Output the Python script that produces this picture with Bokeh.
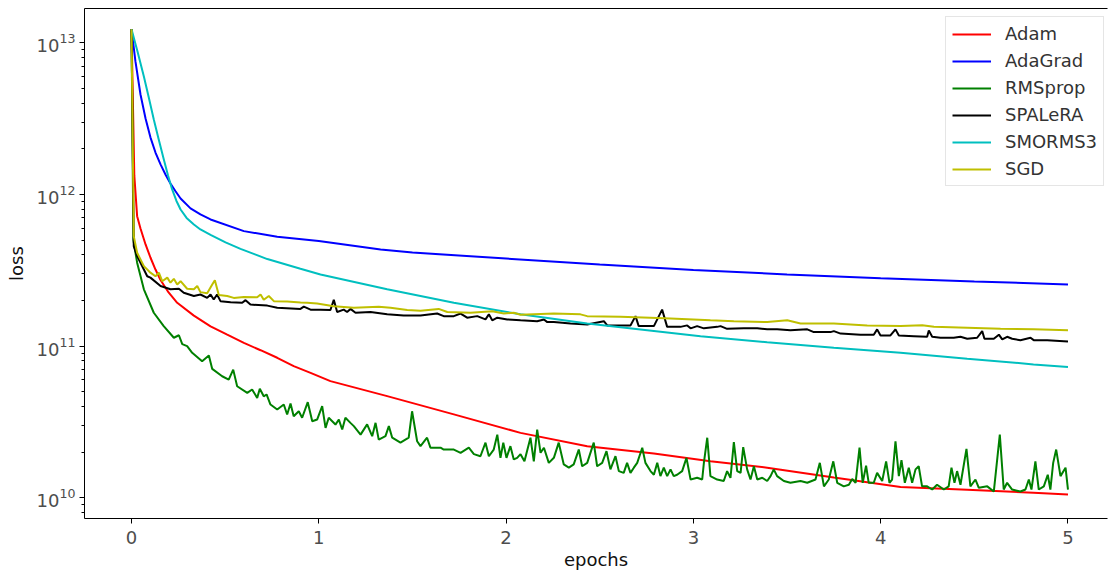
from bokeh.plotting import figure
from bokeh.models import (Range1d, FixedTicker, LinearAxis, Legend, LegendItem,
                          LogTickFormatter, ColumnDataSource)
from bokeh.embed import file_html
from bokeh.resources import INLINE

# ---------------- data ----------------
labels = ["Adam", "AdaGrad", "RMSprop", "SPALeRA", "SMORMS3", "SGD"]
colors = ["#ff0000", "#0000ff", "#008000", "#000000", "#00bfbf", "#bfbf00"]

adam_x = [0, 0.015, 0.030, 0.048, 0.075, 0.101, 0.128, 0.155, 0.198, 0.244, 0.333, 0.422,
          0.511, 0.600, 0.689, 0.778, 0.866, 0.956, 1.062, 1.365, 1.721, 2.077, 2.433, 2.789,
          3.091, 3.394, 3.750, 4.106, 4.462, 4.816, 5.0]
adam_y = [1.23e13, 1.33e12, 7.19e11, 5.97e11, 4.68e11, 3.84e11, 3.20e11, 2.73e11, 2.26e11,
          1.93e11, 1.59e11, 1.35e11, 1.19e11, 1.05e11, 9.4e10, 8.38e10, 7.38e10, 6.67e10,
          5.88e10, 4.68e10, 3.55e10, 2.68e10, 2.19e10, 1.96e10, 1.74e10, 1.58e10, 1.36e10,
          1.18e10, 1.13e10, 1.08e10, 1.05e10]

adagrad_x = [0, 0.021, 0.048, 0.075, 0.101, 0.128, 0.155, 0.182, 0.208, 0.235, 0.262, 0.315,
             0.368, 0.422, 0.600, 0.778, 1.0, 1.33, 1.5, 2.0, 2.5, 3.0, 3.5, 4.0, 4.5, 5.0]
adagrad_y = [1.23e13, 7.53e12, 4.56e12, 3.17e12, 2.38e12, 1.89e12, 1.58e12, 1.35e12, 1.18e12,
             1.05e12, 9.41e11, 8.09e11, 7.38e11, 6.84e11, 5.73e11, 5.26e11, 4.94e11, 4.33e11,
             4.14e11, 3.78e11, 3.45e11, 3.18e11, 2.97e11, 2.80e11, 2.67e11, 2.55e11]

rms_x = [0, 0.010, 0.030, 0.066, 0.119, 0.172, 0.226, 0.253, 0.271, 0.297, 0.324, 0.377,
         0.413, 0.431, 0.484, 0.519, 0.543, 0.564, 0.618, 0.644, 0.671, 0.685, 0.706, 0.721,
         0.742, 0.778, 0.813, 0.831, 0.849, 0.866, 0.893, 0.911, 0.941, 0.965, 0.991, 1.018,
         1.036, 1.053, 1.089, 1.107, 1.125, 1.142, 1.169, 1.187, 1.223, 1.258, 1.285, 1.303,
         1.320, 1.356, 1.374, 1.392, 1.436, 1.480, 1.498, 1.525, 1.543, 1.578, 1.596, 1.650,
         1.667, 1.721, 1.757, 1.801, 1.828, 1.863, 1.890, 1.908, 1.934, 1.953, 1.970, 1.985,
         2.002, 2.023, 2.041, 2.059, 2.077, 2.098, 2.130, 2.148, 2.166, 2.184, 2.202, 2.228,
         2.255, 2.281, 2.308, 2.335, 2.361, 2.388, 2.406, 2.433, 2.468, 2.486, 2.513, 2.536,
         2.557, 2.584, 2.602, 2.628, 2.646, 2.664, 2.682, 2.700, 2.727, 2.744, 2.771, 2.789,
         2.807, 2.824, 2.842, 2.860, 2.878, 2.895, 2.913, 2.940, 2.963, 2.985, 3.020, 3.047,
         3.056, 3.074, 3.091, 3.127, 3.162, 3.180, 3.198, 3.216, 3.234, 3.252, 3.266, 3.287,
         3.305, 3.323, 3.341, 3.368, 3.394, 3.412, 3.429, 3.447, 3.483, 3.518, 3.572, 3.608,
         3.652, 3.675, 3.697, 3.723, 3.747, 3.768, 3.803, 3.830, 3.848, 3.866, 3.887, 3.904,
         3.922, 3.936, 3.963, 3.981, 4.008, 4.029, 4.047, 4.061, 4.079, 4.097, 4.111, 4.129,
         4.150, 4.168, 4.186, 4.203, 4.221, 4.248, 4.275, 4.301, 4.337, 4.363, 4.378, 4.394,
         4.408, 4.426, 4.458, 4.479, 4.506, 4.524, 4.569, 4.604, 4.636, 4.657, 4.675, 4.702,
         4.746, 4.773, 4.791, 4.805, 4.826, 4.844, 4.871, 4.892, 4.906, 4.921, 4.937, 4.960,
         4.987, 5.0]
rms_y = [1.23e13, 5.0e11, 3.55e11, 2.37e11, 1.66e11, 1.355e11, 1.136e11, 1.18e11, 1.03e11,
         1.0e11, 9.03e10, 7.95e10, 8.67e10, 7.08e10, 6.33e10, 6.02e10, 7.0e10, 5.44e10,
         4.92e10, 5.18e10, 4.56e10, 5.24e10, 4.67e10, 4.8e10, 4.12e10, 3.82e10, 4.12e10,
         3.54e10, 4.19e10, 3.45e10, 3.72e10, 3.37e10, 4.27e10, 3.20e10, 3.28e10, 4.02e10,
         2.89e10, 3.37e10, 3.04e10, 3.28e10, 2.82e10, 3.37e10, 3.12e10, 2.97e10, 2.61e10,
         3.05e10, 2.55e10, 3.12e10, 2.42e10, 2.55e10, 2.97e10, 2.49e10, 2.31e10, 2.49e10,
         3.72e10, 2.36e10, 2.19e10, 2.49e10, 2.14e10, 2.14e10, 2.08e10, 2.08e10, 1.98e10,
         2.14e10, 1.94e10, 1.88e10, 2.31e10, 1.88e10, 2.08e10, 2.61e10, 1.835e10, 2.31e10,
         1.835e10, 2.19e10, 1.79e10, 1.835e10, 1.94e10, 1.74e10, 2.49e10, 1.74e10, 2.82e10,
         1.98e10, 2.14e10, 1.70e10, 1.835e10, 2.31e10, 1.66e10, 1.58e10, 1.66e10, 2.08e10,
         1.615e10, 1.70e10, 2.31e10, 1.615e10, 1.70e10, 2.03e10, 1.54e10, 1.88e10, 1.50e10,
         1.46e10, 1.70e10, 1.46e10, 1.58e10, 1.70e10, 2.14e10, 1.70e10, 1.50e10, 1.42e10,
         1.70e10, 1.39e10, 1.58e10, 1.39e10, 1.54e10, 1.39e10, 1.42e10, 1.50e10, 1.835e10,
         1.32e10, 1.355e10, 1.32e10, 1.70e10, 2.49e10, 1.39e10, 1.32e10, 1.29e10, 1.50e10,
         1.355e10, 2.33e10, 1.50e10, 1.46e10, 2.16e10, 1.54e10, 1.32e10, 1.615e10, 1.32e10,
         1.355e10, 1.29e10, 1.39e10, 1.54e10, 1.39e10, 1.29e10, 1.256e10, 1.29e10, 1.256e10,
         1.32e10, 1.70e10, 1.19e10, 1.32e10, 1.74e10, 1.256e10, 1.19e10, 1.22e10, 1.33e10,
         1.256e10, 2.14e10, 1.256e10, 1.63e10, 1.256e10, 1.256e10, 1.46e10, 1.29e10, 1.74e10,
         1.256e10, 1.32e10, 2.36e10, 1.39e10, 1.77e10, 1.256e10, 1.58e10, 1.256e10, 1.54e10,
         1.615e10, 1.19e10, 1.19e10, 1.134e10, 1.22e10, 1.134e10, 1.19e10, 1.58e10, 1.256e10,
         1.50e10, 1.22e10, 2.10e10, 1.19e10, 1.32e10, 1.164e10, 1.19e10, 1.10e10, 2.61e10,
         1.134e10, 1.256e10, 1.134e10, 1.10e10, 1.134e10, 1.32e10, 1.134e10, 1.74e10,
         1.134e10, 1.19e10, 1.42e10, 1.134e10, 1.70e10, 2.08e10, 1.39e10, 1.58e10, 1.134e10]

spa_x = [0, 0.012, 0.030, 0.066, 0.084, 0.101, 0.155, 0.208, 0.253, 0.279, 0.333, 0.368,
         0.404, 0.422, 0.439, 0.457, 0.475, 0.529, 0.591, 0.609, 0.635, 0.725, 0.778, 0.902,
         0.920, 0.956, 1.009, 1.062, 1.080, 1.098, 1.133, 1.151, 1.169, 1.196, 1.276, 1.365,
         1.453, 1.543, 1.632, 1.667, 1.721, 1.757, 1.792, 1.846, 1.890, 1.908, 1.926, 1.953,
         2.006, 2.077, 2.166, 2.202, 2.220, 2.255, 2.344, 2.433, 2.522, 2.540, 2.611, 2.664,
         2.691, 2.708, 2.789, 2.833, 2.860, 2.931, 2.967, 2.985, 3.020, 3.056, 3.127, 3.145,
         3.180, 3.269, 3.341, 3.394, 3.447, 3.518, 3.608, 3.643, 3.732, 3.750, 3.786, 3.892,
         3.963, 3.981, 3.999, 4.052, 4.079, 4.097, 4.177, 4.248, 4.257, 4.275, 4.319, 4.390,
         4.426, 4.462, 4.515, 4.542, 4.554, 4.604, 4.631, 4.649, 4.675, 4.702, 4.746, 4.800,
         4.817, 4.889, 5.0]
spa_y = [1.23e13, 4.56e11, 3.92e11, 3.20e11, 2.89e11, 2.83e11, 2.49e11, 2.37e11, 2.39e11,
         2.25e11, 2.14e11, 2.19e11, 2.08e11, 2.19e11, 2.03e11, 2.19e11, 1.98e11, 1.95e11,
         1.93e11, 2.01e11, 1.88e11, 1.85e11, 1.79e11, 1.76e11, 1.82e11, 1.74e11, 1.74e11,
         1.73e11, 2.02e11, 1.68e11, 1.74e11, 1.68e11, 1.76e11, 1.66e11, 1.68e11, 1.62e11,
         1.59e11, 1.59e11, 1.64e11, 1.577e11, 1.577e11, 1.64e11, 1.54e11, 1.577e11, 1.50e11,
         1.62e11, 1.48e11, 1.54e11, 1.50e11, 1.48e11, 1.46e11, 1.50e11, 1.44e11, 1.44e11,
         1.41e11, 1.39e11, 1.46e11, 1.37e11, 1.37e11, 1.37e11, 1.577e11, 1.355e11, 1.355e11,
         1.74e11, 1.34e11, 1.34e11, 1.37e11, 1.31e11, 1.355e11, 1.31e11, 1.34e11, 1.355e11,
         1.30e11, 1.31e11, 1.31e11, 1.29e11, 1.29e11, 1.275e11, 1.29e11, 1.237e11, 1.237e11,
         1.256e11, 1.21e11, 1.19e11, 1.19e11, 1.29e11, 1.176e11, 1.176e11, 1.29e11, 1.176e11,
         1.164e11, 1.153e11, 1.27e11, 1.153e11, 1.136e11, 1.136e11, 1.153e11, 1.119e11,
         1.136e11, 1.256e11, 1.119e11, 1.119e11, 1.19e11, 1.107e11, 1.153e11, 1.119e11,
         1.095e11, 1.136e11, 1.095e11, 1.095e11, 1.074e11]

smorms_x = [0, 0.032, 0.066, 0.091, 0.119, 0.144, 0.1725, 0.195, 0.217, 0.240, 0.262, 0.294,
            0.333, 0.368, 0.422, 0.502, 0.582, 0.725, 0.902, 1.009, 1.365, 1.721, 2.077,
            2.433, 2.789, 3.038, 3.394, 3.750, 4.106, 4.462, 4.816, 5.0]
smorms_y = [1.23e13, 8.76e12, 5.99e12, 4.43e12, 3.12e12, 2.34e12, 1.70e12, 1.334e12, 1.079e12,
            9.06e11, 7.96e11, 7.0e11, 6.34e11, 5.88e11, 5.41e11, 4.83e11, 4.38e11, 3.75e11,
            3.24e11, 2.97e11, 2.37e11, 1.93e11, 1.62e11, 1.41e11, 1.26e11, 1.16e11, 1.06e11,
            9.75e10, 9.05e10, 8.27e10, 7.58e10, 7.28e10]

sgd_x = [0, 0.012, 0.030, 0.066, 0.101, 0.128, 0.146, 0.164, 0.191, 0.208, 0.226, 0.244,
         0.262, 0.297, 0.333, 0.351, 0.368, 0.404, 0.431, 0.445, 0.466, 0.511, 0.546, 0.600,
         0.671, 0.689, 0.706, 0.733, 0.760, 0.831, 0.902, 0.938, 0.991, 1.080, 1.116, 1.187,
         1.320, 1.383, 1.472, 1.543, 1.640, 1.686, 1.810, 1.926, 1.988, 2.041, 2.077, 2.255,
         2.397, 2.433, 2.611, 2.771, 2.878, 3.091, 3.216, 3.394, 3.501, 3.572, 3.750, 3.928,
         4.106, 4.222, 4.284, 4.462, 4.640, 4.817, 5.0]
sgd_y = [1.23e13, 5.31e11, 4.13e11, 3.37e11, 3.05e11, 2.89e11, 3.05e11, 2.68e11, 2.83e11,
         2.62e11, 2.78e11, 2.55e11, 2.68e11, 2.39e11, 2.37e11, 2.49e11, 2.27e11, 2.23e11,
         2.55e11, 2.72e11, 2.17e11, 2.14e11, 2.08e11, 2.11e11, 2.10e11, 2.19e11, 2.02e11,
         2.14e11, 1.98e11, 1.97e11, 1.94e11, 1.93e11, 1.91e11, 1.835e11, 1.82e11, 1.79e11,
         1.82e11, 1.79e11, 1.73e11, 1.71e11, 1.76e11, 1.68e11, 1.66e11, 1.70e11, 1.64e11,
         1.66e11, 1.61e11, 1.64e11, 1.62e11, 1.577e11, 1.56e11, 1.54e11, 1.52e11, 1.48e11,
         1.46e11, 1.44e11, 1.48e11, 1.41e11, 1.41e11, 1.37e11, 1.355e11, 1.375e11, 1.34e11,
         1.32e11, 1.30e11, 1.29e11, 1.275e11]

x_ticks = [0, 1, 2, 3, 4, 5]
y_major_ticks = [1e10, 1e11, 1e12, 1e13]
y_minor_ticks = [m * 10.0 ** d for d in (9, 10, 11, 12, 13) for m in range(2, 10)]

series = [(adam_x, adam_y), (adagrad_x, adagrad_y), (rms_x, rms_y),
          (spa_x, spa_y), (smorms_x, smorms_y), (sgd_x, sgd_y)]

# ---------------- figure ----------------
FONT = "DejaVu Sans"
p = figure(frame_width=1023, frame_height=510,
           x_range=Range1d(-0.251, 5.211),
           y_range=Range1d(10 ** 9.8636, 10 ** 13.226),
           y_axis_type="log", output_backend="svg", toolbar_location=None,
           min_border_left=84, min_border_right=1, min_border_top=8, min_border_bottom=30,
           background_fill_color="white", border_fill_color="white")
p.outline_line_color = None
p.grid.visible = False

items = []
for (xs, ys), lab, col in zip(series, labels, colors):
    n = min(len(xs), len(ys))
    src = ColumnDataSource(dict(x=list(xs[:n]), y=list(ys[:n])))
    r = p.line("x", "y", source=src, line_color=col, line_width=2)
    items.append(LegendItem(label=lab, renderers=[r]))

# axes
p.xaxis.ticker = FixedTicker(ticks=x_ticks, minor_ticks=[])
p.yaxis.ticker = FixedTicker(ticks=y_major_ticks, minor_ticks=y_minor_ticks)
p.yaxis.formatter = LogTickFormatter()
for ax in (p.xaxis[0], p.yaxis[0]):
    ax.axis_line_color = "black"
    ax.axis_line_width = 1
    ax.major_tick_line_color = "black"
    ax.minor_tick_line_color = "black"
    ax.major_tick_out = 5
    ax.major_tick_in = 0
    ax.minor_tick_out = 3
    ax.minor_tick_in = 0
    ax.major_label_text_font = FONT
    ax.major_label_text_font_size = "18px"
    ax.major_label_text_color = "#4d4d4d"
    ax.axis_label_text_font = FONT
    ax.axis_label_text_font_size = "18px"
    ax.axis_label_text_font_style = "normal"
    ax.axis_label_text_color = "#111111"
p.xaxis.axis_label = "epochs"
p.yaxis.axis_label = "loss"
p.xaxis.major_label_standoff = 7
p.xaxis.axis_label_standoff = 2
p.yaxis.major_label_standoff = 4
p.yaxis.axis_label_standoff = 7

# top spine
top = LinearAxis(ticker=FixedTicker(ticks=[], minor_ticks=[]), axis_line_color="black",
                 major_tick_line_color=None, minor_tick_line_color=None,
                 major_tick_out=0, minor_tick_out=0, major_label_standoff=0,
                 major_label_text_font_size="0px")
p.add_layout(top, "above")

legend = Legend(items=items, location=(861, 332),
                label_text_font=FONT, label_text_font_size="18px",
                label_text_color="#333333",
                glyph_width=39, glyph_height=20, label_height=20, spacing=6,
                padding=6, label_standoff=14,
                border_line_color="#cccccc", border_line_width=1,
                background_fill_color="white", background_fill_alpha=0.8)
p.add_layout(legend)

open("out.html", "w").write(file_html(p, INLINE))
